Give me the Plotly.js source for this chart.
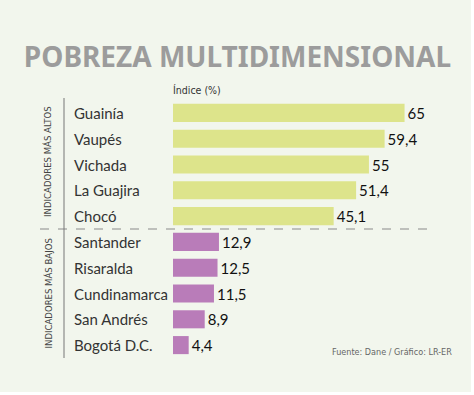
<!DOCTYPE html>
<html>
<head>
<meta charset="utf-8">
<script src="https://cdn.plot.ly/plotly-3.0.1.min.js"></script>
<style>
html,body{margin:0;padding:0;background:#ffffff;}
#chart{width:471px;height:392px;}
</style>
</head>
<body>
<div id="chart"></div>
<script>
// Data
const highCategories = ["Guainía", "Vaupés", "Vichada", "La Guajira", "Chocó"];
const highValues = [65, 59.4, 55, 51.4, 45.1];
const lowCategories = ["Santander", "Risaralda", "Cundinamarca", "San Andrés", "Bogotá D.C."];
const lowValues = [12.9, 12.5, 11.5, 8.9, 4.4];
const groupLabels = ["INDICADORES MÁS ALTOS", "INDICADORES MÁS BAJOS"];
const chartTitle = "POBREZA MULTIDIMENSIONAL";
const axisLabel = "Índice (%)";
const sourceText = "Fuente: Dane / Gráfico: LR-ER";

const allCategories = highCategories.concat(lowCategories);
const fmt = v => String(v).replace('.', ',');

const W = 471, H = 392;
const ML = 173, MR = 13, MT = 100, MB = 34;
const plotW = W - ML - MR, plotH = H - MT - MB;
const px = x => (x - ML) / plotW; // figure px -> paper x
const COND = 'DejaVu Sans Condensed, Liberation Sans Narrow, Lato, sans-serif';

const barTrace = (cats, vals, color) => ({
  type: 'bar',
  orientation: 'h',
  y: cats,
  x: vals,
  width: 0.7,
  marker: {color: color},
  text: vals.map(fmt),
  textposition: 'outside',
  textfont: {family: 'Lato', size: 15, color: '#111111'},
  cliponaxis: false,
  hoverinfo: 'skip'
});

const data = [
  barTrace(highCategories, highValues, '#dde48b'),
  barTrace(lowCategories, lowValues, '#b97cb9')
];

const annotations = allCategories.map(c => ({
  xref: 'paper', yref: 'y', x: px(72), y: c,
  xanchor: 'left', yanchor: 'middle', showarrow: false,
  text: c, font: {family: 'Lato', size: 15, color: '#333333'}
}));

annotations.push({
  xref: 'paper', yref: 'y', x: px(48), y: 1.9,
  textangle: -90, showarrow: false, xanchor: 'center', yanchor: 'middle',
  text: groupLabels[0], font: {family: COND, size: 9.5, color: '#444444'}
});
annotations.push({
  xref: 'paper', yref: 'y', x: px(48), y: 7.0,
  textangle: -90, showarrow: false, xanchor: 'center', yanchor: 'middle',
  text: groupLabels[1], font: {family: COND, size: 9.5, color: '#444444'}
});
annotations.push({
  xref: 'paper', yref: 'paper', x: px(171), y: 1 + (MT - 90) / plotH,
  xanchor: 'left', yanchor: 'middle', showarrow: false,
  text: axisLabel, font: {family: COND, size: 10.5, color: '#333333'}
});
annotations.push({
  xref: 'paper', yref: 'paper', x: px(454), y: (H - MB - 352) / plotH,
  xanchor: 'right', yanchor: 'middle', showarrow: false,
  text: sourceText, font: {family: COND, size: 9, color: '#666666'}
});

const layout = {
  width: W, height: H,
  margin: {l: ML, r: MR, t: MT, b: MB, pad: 0},
  paper_bgcolor: '#f2f6ed',
  plot_bgcolor: 'rgba(0,0,0,0)',
  showlegend: false,
  barmode: 'overlay',
  title: {
    text: '<b>' + chartTitle + '</b>',
    x: 237.5 / W, xref: 'container', xanchor: 'center',
    y: 1 - 57 / H, yref: 'container', yanchor: 'middle',
    font: {family: 'Noto Sans', size: 28, color: '#9c9c9c'}
  },
  xaxis: {range: [0, 80], visible: false, fixedrange: true},
  yaxis: {
    type: 'category', categoryarray: allCategories, categoryorder: 'array',
    range: [allCategories.length - 0.5, -0.5],
    visible: false, fixedrange: true
  },
  shapes: [
    {type: 'line', xref: 'paper', yref: 'y', x0: px(40), x1: px(432), y0: 4.5, y1: 4.5,
     line: {color: '#8a8a8a', width: 1, dash: 'dash'}},
    {type: 'line', xref: 'paper', yref: 'paper', x0: px(64), x1: px(64),
     y0: 1 + 2 / plotH, y1: 0, line: {color: '#777777', width: 1}}
  ],
  annotations: annotations
};

Plotly.newPlot('chart', data, layout, {displayModeBar: false, staticPlot: true});
</script>
</body>
</html>
